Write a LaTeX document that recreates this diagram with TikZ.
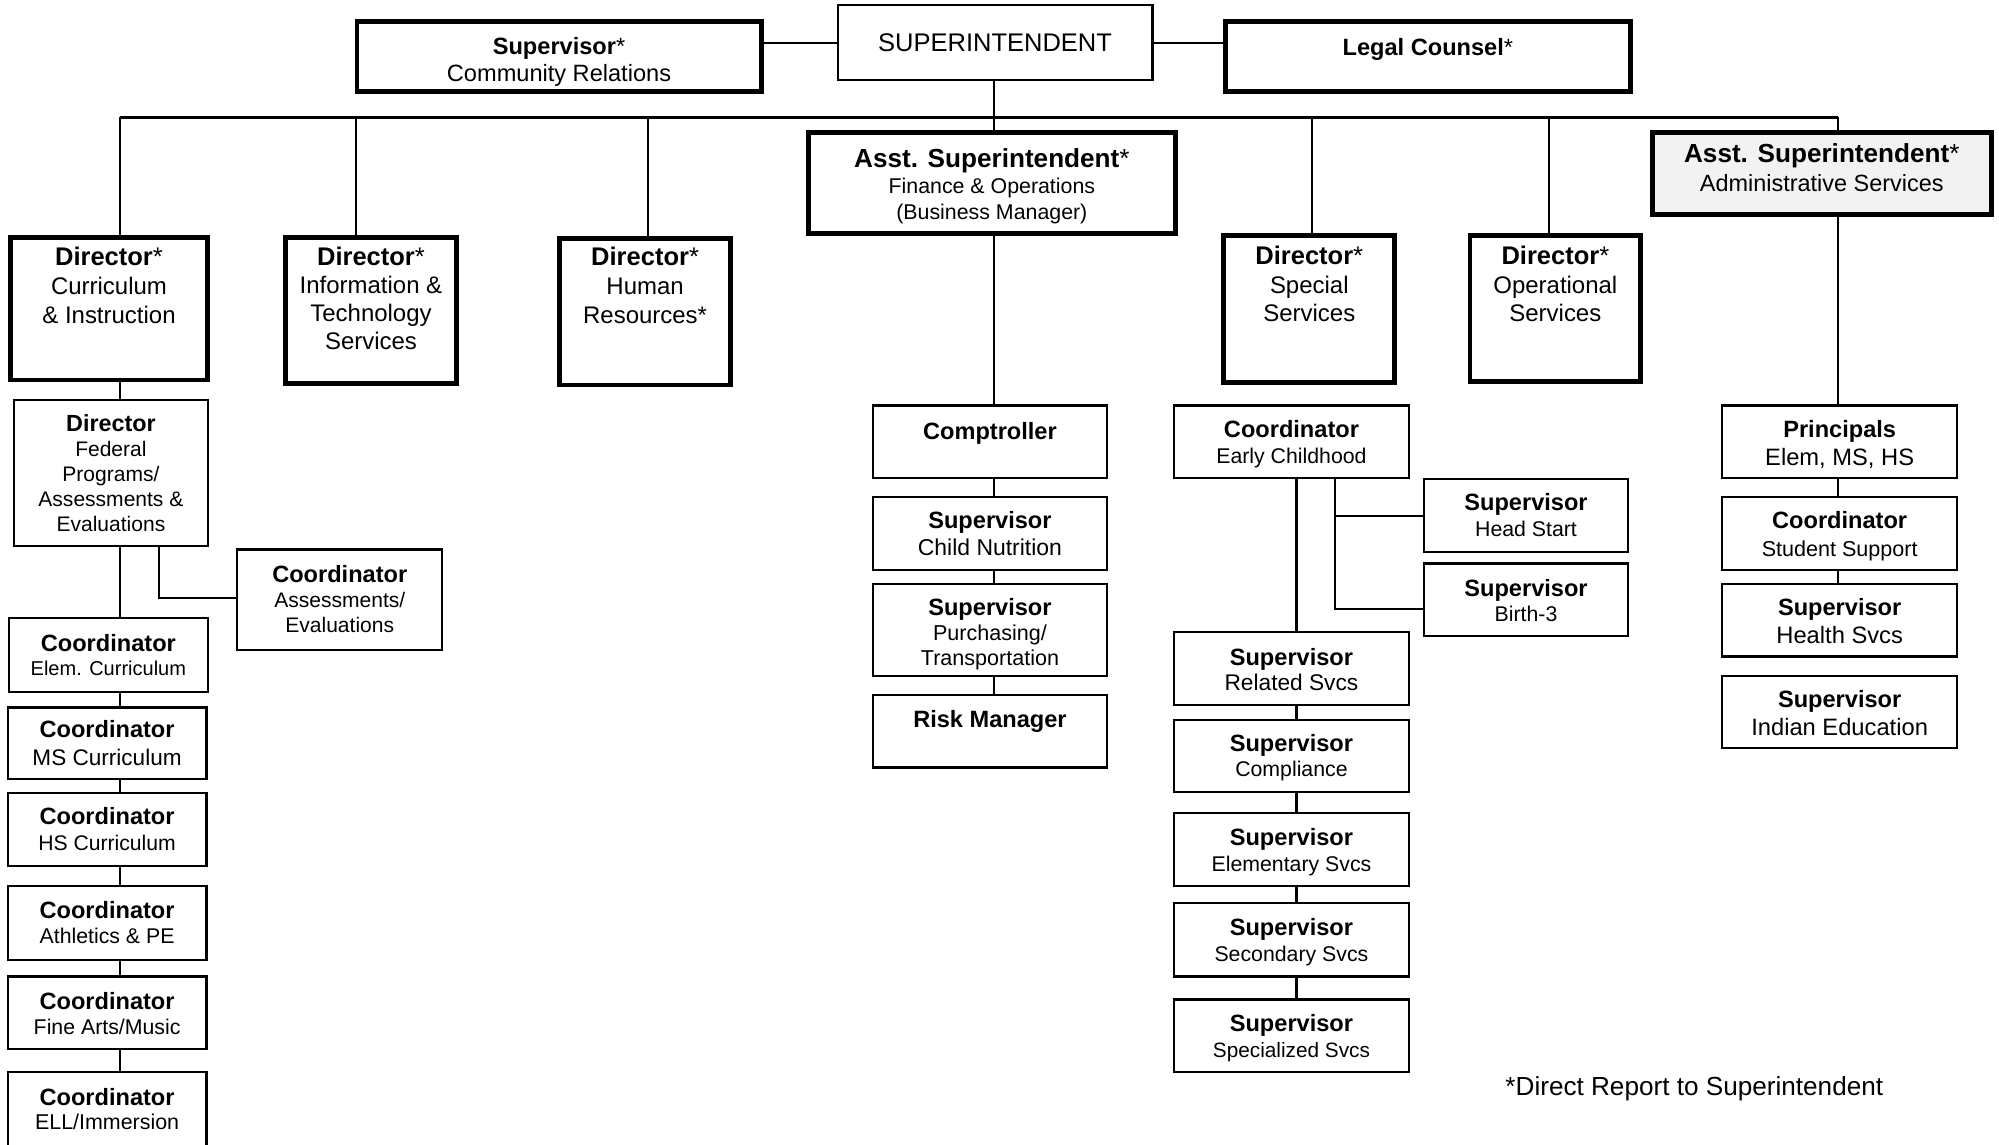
\documentclass[tikz,border=0pt]{standalone}
\usepackage{fontspec}
\setmainfont{Liberation Sans}
\newcommand\hb[2][18.5]{{\fontsize{#1}{#1}\selectfont\bfseries #2}}
\newcommand\rg[2][16.5]{{\fontsize{#1}{#1}\selectfont #2}}
% style, name, x1, y1, x2, y2, top pad, line spacing, content
\newcommand\ob[9]{\node[#1] (#2) at ({(#3+#5)/2},{(#4+#6)/2}) {\begin{minipage}[c][\dimexpr #6pt-#4pt\relax][t]{\dimexpr #5pt-#3pt\relax}\fontsize{16}{#8}\selectfont\centering\vspace*{#7pt}#9\end{minipage}};}
\begin{document}
\begin{tikzpicture}[x=1pt,y=-1pt,
  plainbox/.style={draw, line width=1.7pt, fill=white, inner sep=0pt, outer sep=0pt},
  boldbox/.style={draw, line width=3.8pt, fill=white, inner sep=0pt, outer sep=0pt},
  greybox/.style={boldbox, fill=black!5},
  conn/.style={line width=1.7pt},
  bus/.style={line width=2pt}]
\useasboundingbox (0,0) rectangle (1568,898);
\clip (0,0) rectangle (1568,898);
% top row
\ob{boldbox}{commrel}{280}{17}{597}{72}{12.5}{21}{\hb{Supervisor}\rg[18.5]{*}\\\rg[18.5]{Community Relations}}
\ob{plainbox}{supt}{657}{4}{904}{63}{22.8}{21}{\rg[20]{SUPERINTENDENT}}
\ob{boldbox}{legal}{961}{17}{1279}{72}{13.4}{21}{\hb{Legal Counsel}\rg[18.5]{*}}
% second row
\ob{boldbox}{dci}{8}{186}{163}{298}{8}{22.5}{\hb[20]{Director}\rg[20]{*}\\\rg[18.8]{Curriculum}\\\rg[18.8]{\& Instruction}}
\ob{boldbox}{dit}{224}{186}{358}{301}{8}{22}{\hb[20]{Director}\rg[20]{*}\\\rg[18.8]{Information \&}\\\rg[18.8]{Technology}\\\rg[18.8]{Services}}
\ob{boldbox}{dhr}{439}{187}{573}{302}{7}{22.5}{\hb[20]{Director}\rg[20]{*}\\\rg[18.8]{Human}\\\rg[18.8]{Resources*}}
\ob{boldbox}{asf}{634}{104}{922}{183}{12.7}{20.5}{\hb[20.5]{Asst. Superintendent}\rg[20.5]{*}\\\rg[16.75]{Finance \& Operations}\\\rg[16.75]{(Business Manager)}}
\ob{boldbox}{dss}{960}{185}{1094}{300}{8}{22.5}{\hb[20]{Director}\rg[20]{*}\\\rg[18.8]{Special}\\\rg[18.8]{Services}}
\ob{boldbox}{dos}{1153}{185}{1287}{299}{8}{22.5}{\hb[20]{Director}\rg[20]{*}\\\rg[18.8]{Operational}\\\rg[18.8]{Services}}
\ob{greybox}{asa}{1296}{104}{1562}{168}{8.7}{22.3}{\hb[20.5]{Asst. Superintendent}\rg[20.5]{*}\\\rg[18.4]{Administrative Services}}
% curriculum column
\ob{plainbox}{dfp}{11}{314}{163}{428}{11.4}{19.6}{\hb[18.3]{Director}\\\rg{Federal}\\\rg{Programs/}\\\rg{Assessments \&}\\\rg{Evaluations}}
\ob{plainbox}{cae}{186}{431}{347}{510}{12.4}{19.7}{\hb{Coordinator}\\\rg{Assessments/}\\\rg{Evaluations}}
\ob{plainbox}{cel}{7}{485}{163}{543}{12.4}{19}{\hb{Coordinator}\\\rg[15.7]{Elem. Curriculum}}
\ob{plainbox}{cms}{6}{555}{162}{611}{10.4}{21.7}{\hb{Coordinator}\\\rg[17.7]{MS Curriculum}}
\ob{plainbox}{chs}{6}{622}{162}{679}{11.4}{20.3}{\hb{Coordinator}\\\rg[16.6]{HS Curriculum}}
\ob{plainbox}{cat}{6}{695}{162}{753}{12.4}{19.4}{\hb{Coordinator}\\\rg[16.7]{Athletics \& PE}}
\ob{plainbox}{cfa}{6}{766}{162}{823}{12.4}{19.4}{\hb{Coordinator}\\\rg[16.7]{Fine Arts/Music}}
\ob{plainbox}{cell}{6}{841}{162}{905}{12.4}{19.4}{\hb{Coordinator}\\\rg[16.8]{ELL/Immersion}}
% finance column
\ob{plainbox}{comp}{685}{318}{868}{375}{13.4}{21}{\hb{Comptroller}}
\ob{plainbox}{scn}{685}{390}{868}{447}{11.4}{21}{\hb{Supervisor}\\\rg[18]{Child Nutrition}}
\ob{plainbox}{spt}{685}{458}{868}{530}{11.4}{19.7}{\hb{Supervisor}\\\rg[16.9]{Purchasing/}\\\rg[16.9]{Transportation}}
\ob{plainbox}{risk}{685}{545}{868}{602}{12.4}{21}{\hb{Risk Manager}}
% special services column
\ob{plainbox}{cec}{921}{318}{1105}{375}{11.4}{20.4}{\hb{Coordinator}\\\rg[16.7]{Early Childhood}}
\ob{plainbox}{shs}{1117}{376}{1277}{433}{11.4}{20.4}{\hb{Supervisor}\\\rg[16.7]{Head Start}}
\ob{plainbox}{sb3}{1117}{442}{1277}{499}{12.4}{19.4}{\hb{Supervisor}\\\rg[16.7]{Birth-3}}
\ob{plainbox}{srs}{921}{496}{1105}{553}{12.4}{19.8}{\hb{Supervisor}\\\rg[17.8]{Related Svcs}}
\ob{plainbox}{scp}{921}{565}{1105}{621}{11.4}{19.4}{\hb{Supervisor}\\\rg[16.7]{Compliance}}
\ob{plainbox}{sel}{921}{638}{1105}{695}{11.4}{20.4}{\hb{Supervisor}\\\rg[16.7]{Elementary Svcs}}
\ob{plainbox}{ssc}{921}{708}{1105}{766}{12.4}{20.4}{\hb{Supervisor}\\\rg[16.7]{Secondary Svcs}}
\ob{plainbox}{ssp}{921}{784}{1105}{841}{11.4}{20.6}{\hb{Supervisor}\\\rg[16.3]{Specialized Svcs}}
% administrative column
\ob{plainbox}{prn}{1351}{318}{1535}{375}{11.4}{22}{\hb{Principals}\\\rg[18.6]{Elem, MS, HS}}
\ob{plainbox}{css}{1351}{390}{1535}{447}{11.4}{21.4}{\hb{Coordinator}\\\rg[16.9]{Student Support}}
\ob{plainbox}{shv}{1351}{458}{1535}{515}{11.4}{22}{\hb{Supervisor}\\\rg[18.6]{Health Svcs}}
\ob{plainbox}{sie}{1351}{530}{1535}{587}{11.4}{22}{\hb{Supervisor}\\\rg[18.6]{Indian Education}}
% footnote
\node (note) at (1329,854) {\rg[20.5]{*Direct Report to Superintendent}};
% connectors
\coordinate (busL) at (94,92);
\coordinate (busR) at (1442,92);
\coordinate (bIT) at (279,92);
\coordinate (bHR) at (508,92);
\coordinate (bSup) at (780,92);
\coordinate (bSS) at (1029,92);
\coordinate (bOS) at (1215,92);
\coordinate (aeX) at (125,0);
\coordinate (ssX) at (1017,0);
\coordinate (ecX) at (1047,0);
\draw[conn] (supt.west) -- (supt.west -| commrel.east);
\draw[conn] (supt.east) -- (supt.east -| legal.west);
\draw[conn] (bSup |- supt.south) -- (bSup |- asf.north);
\draw[bus] (busL) -- (busR);
\draw[conn] (busL) -- (busL |- dci.north);
\draw[conn] (bIT) -- (bIT |- dit.north);
\draw[conn] (bHR) -- (bHR |- dhr.north);
\draw[conn] (bSS) -- (bSS |- dss.north);
\draw[conn] (bOS) -- (bOS |- dos.north);
\draw[conn] (busR) -- (busR |- asa.north);
% curriculum
\draw[conn] (busL |- dci.south) -- (busL |- dfp.north);
\draw[conn] (busL |- dfp.south) -- (busL |- cel.north);
\draw[conn] (busL |- cel.south) -- (busL |- cms.north);
\draw[conn] (busL |- cms.south) -- (busL |- chs.north);
\draw[conn] (busL |- chs.south) -- (busL |- cat.north);
\draw[conn] (busL |- cat.south) -- (busL |- cfa.north);
\draw[conn] (busL |- cfa.south) -- (busL |- cell.north);
\draw[conn] (aeX |- dfp.south) |- ([yshift=1.5pt]cae.west);
% finance
\draw[conn] (bSup |- asf.south) -- (bSup |- comp.north);
\draw[conn] (bSup |- comp.south) -- (bSup |- scn.north);
\draw[conn] (bSup |- scn.south) -- (bSup |- spt.north);
\draw[conn] (bSup |- spt.south) -- (bSup |- risk.north);
% special services
\draw[conn] (ssX |- cec.south) -- (ssX |- srs.north);
\draw[conn] (ssX |- srs.south) -- (ssX |- scp.north);
\draw[conn] (ssX |- scp.south) -- (ssX |- sel.north);
\draw[conn] (ssX |- sel.south) -- (ssX |- ssc.north);
\draw[conn] (ssX |- ssc.south) -- (ssX |- ssp.north);
\draw[conn] (ecX |- cec.south) |- ([yshift=-7.5pt]sb3.west);
\draw[conn] (ecX |- shs.west) -- (shs.west);
% administrative
\draw[conn] (busR |- asa.south) -- (busR |- prn.north);
\draw[conn] (busR |- prn.south) -- (busR |- css.north);
\draw[conn] (busR |- css.south) -- (busR |- shv.north);
\end{tikzpicture}
\end{document}
